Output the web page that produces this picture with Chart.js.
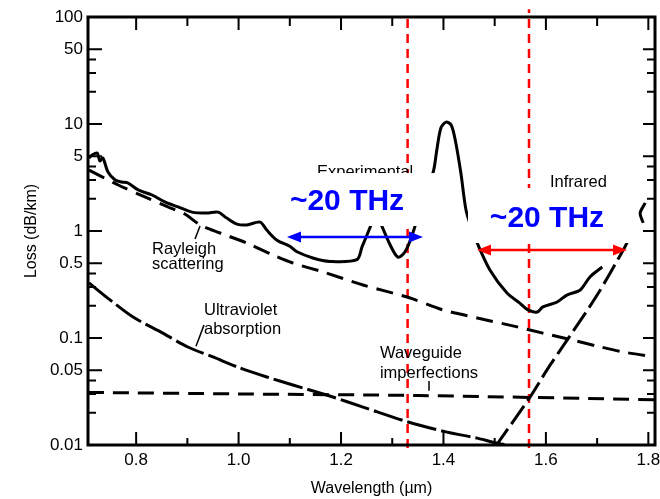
<!DOCTYPE html>
<html>
<head>
<meta charset="utf-8">
<script src="https://cdn.jsdelivr.net/npm/chart.js@4.4.1/dist/chart.umd.min.js"></script>
<style>
  html, body { margin: 0; padding: 0; background: #fff; }
  #wrap { width: 660px; height: 499px; position: relative; }
</style>
</head>
<body>
<div id="wrap"><canvas id="lossChart"></canvas></div>
<script>
// wavelength in um, loss in dB/km
const expX = [0.708, 0.714, 0.724, 0.729, 0.735, 0.745, 0.759, 0.772, 0.784, 0.804, 0.831, 0.856, 0.882, 0.909,
  0.938, 0.960, 0.977, 0.997, 1.016, 1.042, 1.055, 1.075, 1.100, 1.114, 1.145, 1.178, 1.231, 1.241, 1.257,
  1.266, 1.276, 1.296, 1.311, 1.325, 1.339, 1.354, 1.380, 1.387, 1.395, 1.405, 1.415, 1.423, 1.434, 1.444,
  1.456, 1.466, 1.491, 1.524, 1.549, 1.565, 1.583, 1.594, 1.622, 1.641, 1.667, 1.686, 1.710, 1.750,
  1.790, 1.784, 1.794];
const expY = [4.81, 5.13, 5.36, 4.51, 4.81, 3.56, 3.00, 2.87, 2.81, 2.42, 2.17, 1.87, 1.68, 1.50,
  1.47, 1.50, 1.32, 1.16, 1.14, 1.21, 1.02, 0.82, 0.72, 0.64, 0.56, 0.52, 0.54, 0.71, 1.09,
  1.41, 1.21, 0.74, 0.57, 0.64, 0.92, 1.57, 3.56, 5.71, 9.18, 10.4, 9.79, 7.09, 3.48, 1.57,
  1.02, 0.77, 0.43, 0.263, 0.212, 0.183, 0.175, 0.195, 0.217, 0.252, 0.281, 0.372, 0.461, null,
  1.19, 1.47, 1.83];

const rayleighX = [0.708, 0.765, 0.817, 0.862, 0.895, 0.925, 0.964, 1.016, 1.067, 1.106, 1.165, 1.243,
  1.335, 1.399, 1.466, 1.544, 1.594, 1.643, 1.700, 1.751, 1.813];
const rayleighY = [3.7, 2.69, 2.08, 1.68, 1.44, 1.14, 0.958, 0.772, 0.597, 0.502, 0.414, 0.313,
  0.2365, 0.183, 0.154, 0.127, 0.111, 0.098, 0.084, 0.074, 0.0665];

const uvX = [0.708, 0.749, 0.794, 0.852, 0.901, 0.950, 1.003, 1.055, 1.106, 1.178, 1.243, 1.331, 1.407,
  1.466, 1.505, 1.569];
const uvY = [0.327, 0.227, 0.157, 0.111, 0.0824, 0.0665, 0.0524, 0.0432, 0.0364, 0.0287, 0.0226, 0.0164,
  0.0132, 0.0116, 0.0104, 0.0092];

const waveguideX = [0.706, 1.0, 1.35, 1.813];
const waveguideY = [0.031, 0.030, 0.029, 0.0265];

const irX = [1.501, 1.569, 1.604, 1.643, 1.700, 1.751, 1.760];
const irY = [0.0096, 0.028, 0.052, 0.098, 0.252, 0.664, 0.806];

// dashed red markers at the two windows
const windowX = [1.330, 1.567];
const windowTop = [100, 118];
const windowBottom = 0.0094;

const xTicks = [0.8, 1.0, 1.2, 1.4, 1.6, 1.8];
const xMinorTicks = [0.9, 1.1, 1.3, 1.5, 1.7];
const yTicks = [0.01, 0.05, 0.1, 0.5, 1, 5, 10, 50, 100];
const yTickLabels = ['0.01', '0.05', '0.1', '0.5', '1', '5', '10', '50', '100'];
const yMinorTicks = [0.02, 0.03, 0.04, 0.2, 0.3, 0.4, 2, 3, 4, 20, 30, 40];

// annotations, placed in data units
const curveLabels = [
  { text: 'Experimental', x: 1.153, y: 3.2 },
  { text: 'Infrared', x: 1.608, y: 2.58 },
  { text: 'Rayleigh', x: 0.831, y: 0.61 },
  { text: 'scattering', x: 0.831, y: 0.442 },
  { text: 'Ultraviolet', x: 0.9325, y: 0.164 },
  { text: 'absorption', x: 0.9325, y: 0.109 },
  { text: 'Waveguide', x: 1.276, y: 0.065 },
  { text: 'imperfections', x: 1.276, y: 0.0423 }
];
const leaders = [
  { x0: 0.9247, y0: 1.114, x1: 0.915, y1: 0.842 },
  { x0: 0.9325, y0: 0.1325, x1: 0.9169, y1: 0.0838 },
  { x0: 1.3718, y0: 0.0396, x1: 1.3718, y1: 0.0321 }
];
const whiteBoxes = [
  { x0: 1.0574, x1: 1.3932, y0: 3.48, y1: 1.114 },
  { x0: 1.4479, x1: 1.7798, y0: 2.52, y1: 0.772 }
];
const spans = [
  { text: '~20 THz', tx: 1.2117, ty: 1.867, x0: 1.0945, x1: 1.360, y: 0.879, color: '#0000ff' },
  { text: '~20 THz', tx: 1.6021, ty: 1.294, x0: 1.4655, x1: 1.7583, y: 0.664, color: '#ff0000' }
];

const FONT = '"Liberation Sans", Arial, Helvetica, sans-serif';

function pts(xs, ys) {
  return xs.map((v, i) => ({ x: v, y: ys[i] }));
}

function arrow(ctx, x0, x1, y, color) {
  const head = 14, half = 5.5;
  ctx.strokeStyle = color;
  ctx.fillStyle = color;
  ctx.lineWidth = 2.5;
  ctx.beginPath();
  ctx.moveTo(x0 + head - 2, y);
  ctx.lineTo(x1 - head + 2, y);
  ctx.stroke();
  ctx.beginPath();
  ctx.moveTo(x0, y);
  ctx.lineTo(x0 + head, y - half);
  ctx.lineTo(x0 + head, y + half);
  ctx.closePath();
  ctx.fill();
  ctx.beginPath();
  ctx.moveTo(x1, y);
  ctx.lineTo(x1 - head, y - half);
  ctx.lineTo(x1 - head, y + half);
  ctx.closePath();
  ctx.fill();
}

const overlay = {
  id: 'overlay',
  afterDatasetsDraw(chart) {
    const { ctx } = chart;
    const px = v => chart.scales.x.getPixelForValue(v);
    const py = v => chart.scales.y.getPixelForValue(v);
    ctx.save();

    ctx.fillStyle = '#000';
    ctx.font = '16.5px ' + FONT;
    ctx.textAlign = 'left';
    ctx.textBaseline = 'alphabetic';
    curveLabels.forEach(l => ctx.fillText(l.text, px(l.x), py(l.y)));

    ctx.strokeStyle = '#000';
    ctx.lineWidth = 1.5;
    leaders.forEach(l => {
      ctx.beginPath();
      ctx.moveTo(px(l.x0), py(l.y0));
      ctx.lineTo(px(l.x1), py(l.y1));
      ctx.stroke();
    });

    ctx.fillStyle = '#fff';
    whiteBoxes.forEach(b => {
      ctx.fillRect(px(b.x0), py(b.y0), px(b.x1) - px(b.x0), py(b.y1) - py(b.y0));
    });

    spans.forEach(s => {
      arrow(ctx, px(s.x0), px(s.x1), py(s.y), s.color);
      ctx.fillStyle = '#0000ff';
      ctx.font = 'bold 30px ' + FONT;
      ctx.textAlign = 'center';
      ctx.textBaseline = 'middle';
      ctx.fillText(s.text, px(s.tx), py(s.ty));
    });
    ctx.restore();
  },
  afterDraw(chart) {
    const { ctx, chartArea: a } = chart;
    const px = v => chart.scales.x.getPixelForValue(v);
    const py = v => chart.scales.y.getPixelForValue(v);
    ctx.save();
    ctx.strokeStyle = '#000';
    ctx.lineWidth = 3;
    ctx.strokeRect(a.left, a.top, a.right - a.left, a.bottom - a.top);

    ctx.lineWidth = 2;
    ctx.beginPath();
    const tick = (x0, y0, x1, y1) => { ctx.moveTo(x0, y0); ctx.lineTo(x1, y1); };
    xTicks.forEach(v => {
      tick(px(v), a.bottom, px(v), a.bottom - 13);
      tick(px(v), a.top, px(v), a.top + 13);
    });
    xMinorTicks.forEach(v => {
      tick(px(v), a.bottom, px(v), a.bottom - 7);
      tick(px(v), a.top, px(v), a.top + 9);
    });
    yTicks.forEach(v => {
      tick(a.left, py(v), a.left + 14, py(v));
      tick(a.right, py(v), a.right - 12, py(v));
    });
    yMinorTicks.forEach(v => {
      tick(a.left, py(v), a.left + 8, py(v));
      tick(a.right, py(v), a.right - 8, py(v));
    });
    ctx.stroke();
    ctx.restore();
  }
};

const blackLine = (label, xs, ys, dash) => ({
  label: label,
  data: pts(xs, ys),
  borderColor: '#000',
  borderWidth: 3,
  borderDash: dash,
  tension: 0.3,
  spanGaps: false
});

const datasets = [
  blackLine('Experimental', expX, expY, []),
  blackLine('Rayleigh scattering', rayleighX, rayleighY, [17, 9]),
  blackLine('Ultraviolet absorption', uvX, uvY, [30, 5]),
  blackLine('Waveguide imperfections', waveguideX, waveguideY, [16, 9]),
  blackLine('Infrared absorption', irX, irY, [22, 6])
];
windowX.forEach((v, i) => {
  datasets.push({
    label: 'window ' + (i + 1),
    data: [{ x: v, y: windowBottom }, { x: v, y: windowTop[i] }],
    borderColor: '#ff0000',
    borderWidth: 2.5,
    borderDash: [9, 6],
    clip: false
  });
});

new Chart(document.getElementById('lossChart').getContext('2d'), {
  type: 'line',
  data: { datasets: datasets },
  options: {
    responsive: true,
    maintainAspectRatio: false,
    animation: false,
    events: [],
    layout: { padding: { left: 18, top: 17, right: 5, bottom: 0 } },
    elements: { point: { radius: 0 } },
    plugins: { legend: { display: false }, tooltip: { enabled: false } },
    scales: {
      x: {
        type: 'linear',
        min: 0.706,
        max: 1.813,
        grid: { display: false, drawTicks: false },
        border: { display: false },
        afterBuildTicks: s => { s.ticks = xTicks.map(v => ({ value: v })); },
        afterFit: s => { s.height = 54; s.paddingLeft = 0; s.paddingRight = 0; },
        ticks: {
          autoSkip: false,
          maxRotation: 0,
          padding: 5,
          color: '#000',
          font: { family: FONT, size: 17 },
          callback: v => v.toFixed(1)
        },
        title: {
          display: true,
          text: 'Wavelength (\u00b5m)',
          color: '#000',
          font: { family: FONT, size: 16 },
          padding: { top: 4, bottom: 1 }
        }
      },
      y: {
        type: 'logarithmic',
        min: 0.01,
        max: 100,
        grid: { display: false, drawTicks: false },
        border: { display: false },
        afterBuildTicks: s => { s.ticks = yTicks.map(v => ({ value: v })); },
        afterFit: s => { s.width = 70; },
        ticks: {
          autoSkip: false,
          padding: 5,
          color: '#000',
          font: { family: FONT, size: 17 },
          callback: v => {
            const i = yTicks.indexOf(v);
            return i >= 0 ? yTickLabels[i] : '';
          }
        },
        title: {
          display: true,
          text: 'Loss (dB/km)',
          color: '#000',
          font: { family: FONT, size: 16 },
          padding: { top: 4, bottom: 4 }
        }
      }
    }
  },
  plugins: [overlay]
});
</script>
</body>
</html>
